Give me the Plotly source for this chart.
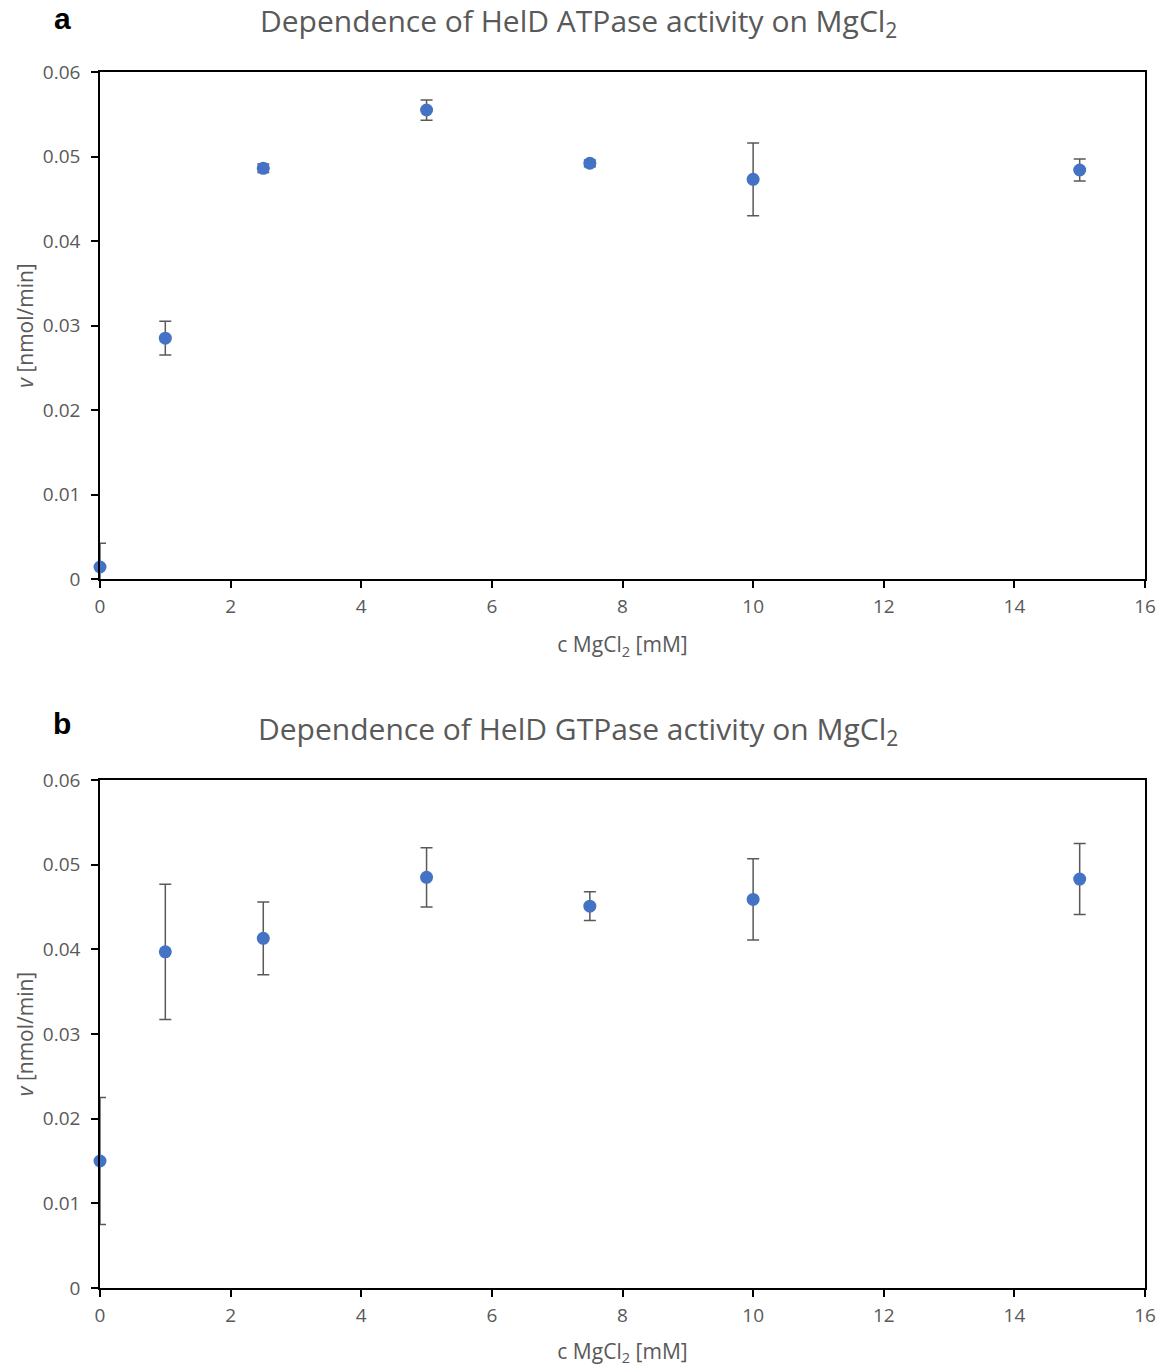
import plotly.graph_objects as go

# ---- data ----
mgcl2_mM = [0, 1, 2.5, 5, 7.5, 10, 15]
atpase_v = [0.00142, 0.0285, 0.0486, 0.0555, 0.0492, 0.0473, 0.0484]
atpase_err = [0.0028, 0.0020, 0.0005, 0.0012, 0.0004, 0.0043, 0.0013]
gtpase_v = [0.0150, 0.0397, 0.0413, 0.0485, 0.0451, 0.0459, 0.0483]
gtpase_err = [0.0075, 0.0080, 0.0043, 0.0035, 0.0017, 0.0048, 0.0042]

x_ticks = [0, 2, 4, 6, 8, 10, 12, 14, 16]
y_ticks = [0, 0.01, 0.02, 0.03, 0.04, 0.05, 0.06]

titles = ["Dependence of HelD ATPase activity on MgCl<sub>2</sub>",
          "Dependence of HelD GTPase activity on MgCl<sub>2</sub>"]
panel_labels = ["a", "b"]

W, H = 1164, 1367
ML, MT = 100, 72
A_TOP, A_BOT, B_TOP, B_BOT = 72, 579, 780, 1288
PLOT_R = 1145
MR = W - PLOT_R
MB = H - B_BOT
plot_h = H - MT - MB

def py(pix):  # page pixel row -> paper y
    return (B_BOT - pix) / plot_h

def px(pix):  # page pixel column -> paper x
    return (pix - ML) / (W - ML - MR)

dom_a = [py(A_BOT), 1.0]
dom_b = [0.0, py(B_TOP)]

FONT = "Open Sans, Lato, sans-serif"
GREY = "#595959"
BLUE = "#4472C4"

fig = go.Figure()

def add_panel(y, err, xa, ya):
    # error bars (clipped to plot area)
    fig.add_trace(go.Scatter(
        x=mgcl2_mM, y=y, mode="markers", xaxis=xa, yaxis=ya,
        marker=dict(size=1, color="rgba(0,0,0,0)"),
        error_y=dict(type="data", array=err, visible=True,
                     color=GREY, thickness=1.5, width=6),
        cliponaxis=True, showlegend=False, hoverinfo="skip"))
    # markers (not clipped)
    fig.add_trace(go.Scatter(
        x=mgcl2_mM, y=y, mode="markers", xaxis=xa, yaxis=ya,
        marker=dict(size=13, color=BLUE),
        cliponaxis=False, showlegend=False))

add_panel(atpase_v, atpase_err, "x", "y")
add_panel(gtpase_v, gtpase_err, "x2", "y2")

axis_common = dict(
    showline=True, linecolor="black", linewidth=1.5, mirror=True,
    ticks="outside", ticklen=7, tickcolor="black", tickwidth=1.5,
    showgrid=False, zeroline=False, automargin=False,
    tickfont=dict(family=FONT, size=19, color=GREY),
)
xt = dict(text="c MgCl<sub>2</sub> [mM]", font=dict(family=FONT, size=21, color=GREY), standoff=20)
yt = dict(text="<i>v</i> [nmol/min]", font=dict(family=FONT, size=21, color=GREY), standoff=4)

fig.update_layout(
    width=W, height=H,
    margin=dict(l=ML, r=MR, t=MT, b=MB, autoexpand=False),
    paper_bgcolor="white", plot_bgcolor="white",
    xaxis=dict(axis_common, range=[0, 16], tickvals=x_ticks, anchor="y", title=xt,
               ticklabelstandoff=2),
    yaxis=dict(axis_common, range=[0, 0.06], tickvals=y_ticks, domain=dom_a, anchor="x",
               title=yt, ticklabelstandoff=7),
    xaxis2=dict(axis_common, range=[0, 16], tickvals=x_ticks, anchor="y2", title=xt,
                ticklabelstandoff=2),
    yaxis2=dict(axis_common, range=[0, 0.06], tickvals=y_ticks, domain=dom_b, anchor="x2",
                title=yt, ticklabelstandoff=7),
)

for i, (ty, ly) in enumerate([(22, 18), (730, 723)]):
    fig.add_annotation(text=titles[i], xref="paper", yref="paper",
                       x=px(578), y=py(ty), xanchor="center", yanchor="middle",
                       showarrow=False, font=dict(family=FONT, size=30, color=GREY))
    fig.add_annotation(text="<b>" + panel_labels[i] + "</b>", xref="paper", yref="paper",
                       x=px(62), y=py(ly), xanchor="center", yanchor="middle",
                       showarrow=False, font=dict(family="Liberation Sans, Arial", size=30, color="black"))

fig.write_html("out.html", config={"displayModeBar": False},
               post_script="document.body.style.margin='0';document.body.style.overflow='hidden';")
